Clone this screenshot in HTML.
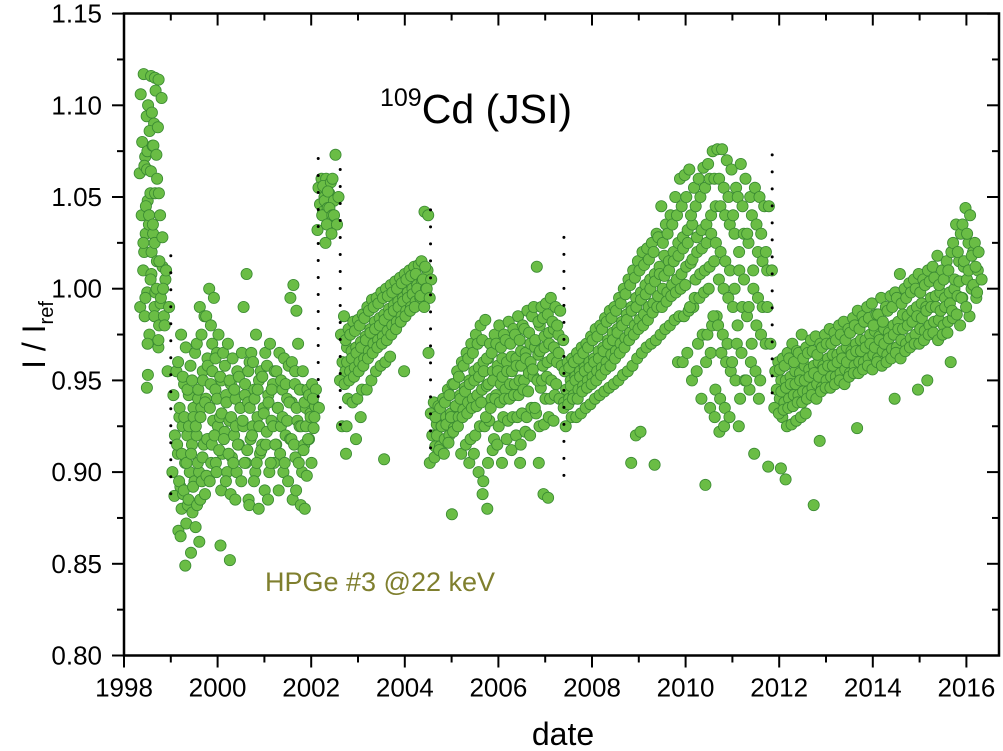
<!DOCTYPE html>
<html><head><meta charset="utf-8"><style>
html,body{margin:0;padding:0;background:#fff;}
svg{display:block;font-family:"Liberation Sans",Arial,sans-serif;}
</style></head><body>
<svg id="chart" width="1003" height="751" viewBox="0 0 1003 751" xmlns="http://www.w3.org/2000/svg">
<g id="dots"></g>
<g id="breaks"></g>
<g id="axes"></g>
<text x="380" y="123" font-size="41" fill="#000"><tspan font-size="25" dy="-17">109</tspan><tspan dy="17">Cd (JSI)</tspan></text>
<text x="265" y="591" font-size="27" fill="#7f7f2e">HPGe #3 @22 keV</text>
<text x="563" y="745" font-size="32" text-anchor="middle">date</text>
<text transform="translate(45,335) rotate(-90)" font-size="32" text-anchor="middle">I / I<tspan font-size="20" dy="8">ref</tspan></text>
</svg>
<script>
const yTicks=[0.80,0.85,0.90,0.95,1.00,1.05,1.10,1.15];
const yTickLabels=["0.80","0.85","0.90","0.95","1.00","1.05","1.10","1.15"];
const xTicks=[1998,2000,2002,2004,2006,2008,2010,2012,2014,2016];
const xTickLabels=["1998","2000","2002","2004","2006","2008","2010","2012","2014","2016"];
const breakDates=[1999.0,2002.15,2002.62,2004.55,2007.4,2011.85];
const breakTops=[1.018,1.071,1.065,1.043,1.028,1.073];
const breakBottoms=[0.884,0.936,0.922,0.907,0.894,0.935];
const dates=[1998.42,1998.5,1998.58,1998.66,1998.74,1998.82,1998.9,
1999.12,1999.22,1999.32,1999.42,1999.52,1999.62,1999.72,1999.82,1999.92,2000.02,2000.12,2000.22,2000.32,2000.42,2000.52,2000.62,2000.72,2000.82,2000.92,2001.02,2001.12,2001.22,2001.32,2001.42,2001.52,2001.62,2001.72,2001.82,2001.92,2002.02,2002.1,
2002.22,2002.32,2002.42,2002.52,
2002.7,2002.8,2002.9,2003.0,2003.1,2003.2,2003.3,2003.4,2003.5,2003.6,2003.7,2003.8,2003.9,2004.0,2004.1,2004.2,2004.3,2004.42,2004.5,
2004.62,2004.72,2004.82,2004.92,2005.02,2005.12,2005.22,2005.32,2005.42,2005.52,2005.62,2005.72,2005.82,2005.92,2006.02,2006.12,2006.22,2006.32,2006.42,2006.52,2006.62,2006.72,2006.82,2006.92,2007.02,2007.12,2007.22,2007.32,
2007.48,2007.58,2007.68,2007.78,2007.88,2007.98,2008.08,2008.18,2008.28,2008.38,2008.48,2008.58,2008.68,2008.78,2008.88,2008.98,2009.08,2009.18,2009.28,2009.38,2009.48,2009.58,2009.68,2009.78,2009.88,2009.98,2010.08,2010.18,2010.28,2010.38,2010.48,2010.58,2010.68,2010.78,2010.88,2010.98,2011.08,2011.18,2011.28,2011.38,2011.48,2011.58,2011.68,2011.78,
2011.98,2012.08,2012.18,2012.28,2012.38,2012.48,2012.58,2012.68,2012.78,2012.88,2012.98,2013.08,2013.18,2013.28,2013.38,2013.48,2013.58,2013.68,2013.78,2013.88,2013.98,2014.08,2014.18,2014.28,2014.38,2014.48,2014.58,2014.68,2014.78,2014.88,2014.98,2015.08,2015.18,2015.28,2015.38,2015.48,2015.58,2015.68,2015.78,2015.88,2015.98,2016.08,2016.18,2016.26];
const values=[
[1.117,1.106,1.094,1.08,1.072,1.063,1.048,1.04,1.03,1.02,1.01,0.998,0.99,0.985],
[1.075,1.067,1.052,1.045,1.035,1.025,1.008,0.995,0.975,0.953,0.946],
[1.116,1.1,1.09,1.086,1.078,1.065,1.052,1.04,1.03,1.02,1.005,0.99,0.97],
[1.115,1.096,1.088,1.078,1.073,1.064,1.052,1.035,1.015,0.998,0.985,0.968],
[1.114,1.108,1.104,1.06,1.04,1.025,1.012,1.0,0.992,0.98],
[1.028,1.015,1.005,0.995,0.985,0.972],
[1.01,1.0,0.99,0.98,0.955],
[0.955,0.942,0.93,0.92,0.91,0.9,0.892,0.887,0.868],
[0.975,0.96,0.948,0.935,0.925,0.915,0.905,0.895,0.888,0.88,0.865],
[0.968,0.952,0.942,0.93,0.92,0.91,0.9,0.89,0.882,0.872,0.849],
[0.958,0.945,0.935,0.925,0.915,0.905,0.895,0.885,0.878,0.856],
[0.965,0.95,0.94,0.93,0.92,0.91,0.9,0.892,0.882,0.87],
[0.99,0.97,0.955,0.945,0.935,0.925,0.915,0.905,0.895,0.885,0.862],
[0.985,0.975,0.962,0.95,0.94,0.93,0.918,0.908,0.898,0.888],
[1.0,0.985,0.97,0.958,0.948,0.938,0.928,0.918,0.905,0.895],
[0.995,0.98,0.965,0.955,0.945,0.935,0.925,0.915,0.905],
[0.975,0.962,0.95,0.94,0.93,0.92,0.91,0.9,0.86],
[0.965,0.952,0.942,0.932,0.922,0.912,0.9,0.89],
[0.97,0.958,0.948,0.938,0.928,0.918,0.908,0.895,0.852],
[0.962,0.95,0.94,0.93,0.92,0.91,0.9,0.888],
[0.955,0.945,0.935,0.925,0.915,0.905,0.895,0.885],
[0.965,0.952,0.942,0.935,0.925,0.915,0.905],
[1.008,0.99,0.96,0.948,0.938,0.928,0.918,0.905,0.885],
[0.965,0.955,0.945,0.935,0.925,0.912,0.9,0.882],
[0.975,0.96,0.95,0.94,0.93,0.92,0.91,0.895],
[0.955,0.945,0.935,0.925,0.915,0.905,0.89,0.88],
[0.965,0.952,0.942,0.932,0.922,0.912,0.9],
[0.97,0.958,0.948,0.938,0.928,0.915,0.905,0.885],
[0.955,0.945,0.935,0.925,0.915,0.905,0.89],
[0.965,0.955,0.945,0.935,0.925,0.915,0.9],
[0.962,0.95,0.94,0.93,0.92,0.91,0.895],
[0.958,0.948,0.938,0.928,0.918,0.905,0.885],
[1.002,0.995,0.988,0.96,0.948,0.938,0.928,0.918,0.908],
[0.97,0.955,0.945,0.935,0.925,0.915,0.9,0.89],
[0.955,0.945,0.935,0.925,0.915,0.905,0.898,0.882,0.88],
[0.945,0.938,0.932,0.925,0.918,0.912,0.905],
[0.948,0.942,0.936,0.93,0.924,0.918],
[0.945,0.94,0.935,0.93],
[1.06,1.055,1.05,1.046,1.042,1.032,1.025],
[1.06,1.056,1.052,1.048,1.044,1.04],
[1.058,1.053,1.048,1.044,1.04,1.035],
[1.073,1.06,1.05,1.04,1.035,1.03],
[0.985,0.975,0.968,0.96,0.955,0.95,0.94,0.925,0.91],
[0.978,0.972,0.966,0.96,0.955,0.948,0.938,0.925],
[0.982,0.975,0.968,0.962,0.957,0.95,0.94],
[0.983,0.977,0.971,0.965,0.96,0.952,0.945,0.918],
[0.986,0.98,0.974,0.968,0.962,0.955,0.945,0.93],
[0.99,0.984,0.978,0.972,0.966,0.958,0.95],
[0.994,0.988,0.982,0.976,0.97,0.962,0.955],
[0.995,0.99,0.984,0.978,0.972,0.965,0.958],
[0.998,0.992,0.986,0.98,0.974,0.968,0.96],
[1.0,0.995,0.989,0.983,0.977,0.97,0.963,0.907],
[1.002,0.996,0.991,0.986,0.98,0.972],
[1.004,0.998,0.993,0.988,0.982,0.975],
[1.006,1.0,0.995,0.99,0.985,0.978,0.955],
[1.008,1.003,0.998,0.993,0.988,0.982],
[1.01,1.005,1.0,0.995,0.99,0.985],
[1.012,1.007,1.002,0.997,0.993,0.988],
[1.013,1.008,1.004,1.0,0.995,0.99],
[1.042,1.015,1.01,1.005,1.0,0.996,0.965],
[1.04,1.012,1.005,1.0,0.995,0.99],
[0.938,0.932,0.926,0.92,0.914,0.905],
[0.936,0.93,0.925,0.92,0.914,0.908],
[0.94,0.935,0.93,0.925,0.918,0.912],
[0.945,0.938,0.932,0.926,0.92,0.91,0.877],
[0.948,0.942,0.936,0.93,0.924,0.916],
[0.955,0.948,0.942,0.936,0.93,0.922,0.91],
[0.96,0.952,0.946,0.94,0.934,0.925,0.915],
[0.965,0.958,0.95,0.944,0.938,0.93,0.918],
[0.97,0.962,0.955,0.948,0.94,0.932,0.92,0.905],
[0.975,0.965,0.957,0.95,0.942,0.935,0.925,0.91],
[0.98,0.97,0.96,0.952,0.945,0.936,0.925,0.9,0.888],
[0.983,0.972,0.962,0.955,0.947,0.938,0.928,0.895,0.88],
[0.97,0.962,0.955,0.948,0.94,0.93,0.918,0.905],
[0.975,0.965,0.958,0.95,0.942,0.935,0.925,0.912],
[0.98,0.97,0.962,0.955,0.948,0.94,0.93,0.915],
[0.975,0.968,0.96,0.952,0.945,0.938,0.928,0.905],
[0.982,0.972,0.963,0.955,0.948,0.94,0.93,0.918],
[0.978,0.97,0.962,0.955,0.948,0.94,0.93,0.912],
[0.985,0.975,0.966,0.958,0.95,0.942,0.932,0.92,0.905],
[0.98,0.972,0.965,0.958,0.95,0.942,0.93,0.915],
[0.988,0.978,0.97,0.962,0.954,0.945,0.935,0.922],
[0.985,0.976,0.968,0.96,0.952,0.944,0.932,0.92],
[1.012,0.99,0.98,0.972,0.964,0.956,0.946,0.935,0.905],
[0.99,0.982,0.974,0.966,0.958,0.95,0.94,0.925,0.888],
[0.992,0.984,0.976,0.968,0.96,0.95,0.94,0.926,0.886],
[0.995,0.986,0.978,0.97,0.962,0.952,0.942,0.93],
[0.99,0.982,0.975,0.968,0.96,0.95,0.94,0.928],
[0.988,0.98,0.972,0.965,0.958,0.948,0.938],
[0.96,0.955,0.95,0.945,0.94,0.935,0.93,0.925],
[0.962,0.957,0.952,0.947,0.942,0.937,0.93],
[0.965,0.96,0.955,0.95,0.945,0.94,0.932],
[0.968,0.962,0.957,0.952,0.947,0.94,0.935],
[0.97,0.965,0.96,0.955,0.95,0.944,0.937],
[0.974,0.968,0.962,0.957,0.952,0.946,0.94],
[0.978,0.972,0.966,0.96,0.955,0.948,0.942],
[0.98,0.974,0.968,0.962,0.957,0.95,0.944],
[0.984,0.978,0.972,0.966,0.96,0.953,0.946],
[0.988,0.982,0.976,0.97,0.964,0.956,0.948],
[0.99,0.984,0.978,0.972,0.966,0.958,0.95],
[0.995,0.988,0.982,0.976,0.97,0.962,0.953],
[1.0,0.992,0.986,0.98,0.973,0.965,0.955],
[1.005,0.997,0.99,0.983,0.976,0.968,0.958],
[1.01,1.002,0.995,0.988,0.98,0.972,0.962,0.905],
[1.015,1.006,0.998,0.99,0.983,0.975,0.965,0.92],
[1.02,1.01,1.002,0.994,0.986,0.978,0.968,0.922],
[1.022,1.013,1.005,0.997,0.99,0.98,0.97],
[1.025,1.016,1.008,1.0,0.992,0.983,0.972],
[1.03,1.02,1.012,1.004,0.996,0.987,0.975,0.904],
[1.045,1.028,1.018,1.008,1.0,0.99,0.978],
[1.035,1.025,1.015,1.007,0.998,0.99,0.98],
[1.04,1.03,1.02,1.01,1.002,0.993,0.983],
[1.05,1.035,1.025,1.015,1.005,0.996,0.985],
[1.06,1.04,1.028,1.018,1.008,0.998,0.985,0.96],
[1.062,1.045,1.032,1.022,1.012,1.0,0.988,0.96],
[1.065,1.05,1.035,1.025,1.014,1.002,0.99,0.965],
[1.055,1.04,1.028,1.016,1.005,0.99,0.97,0.95],
[1.06,1.045,1.032,1.02,1.008,0.995,0.975,0.955],
[1.066,1.05,1.035,1.022,1.01,0.995,0.975,0.94,0.893],
[1.068,1.055,1.04,1.025,1.012,0.998,0.98,0.96,0.935],
[1.075,1.06,1.045,1.03,1.015,1.0,0.985,0.965,0.93],
[1.076,1.06,1.045,1.025,1.005,0.985,0.965,0.945,0.922],
[1.076,1.06,1.04,1.02,1.0,0.98,0.96,0.94,0.925],
[1.07,1.055,1.035,1.015,0.995,0.975,0.955,0.935],
[1.065,1.05,1.03,1.01,0.99,0.97,0.95,0.93],
[1.055,1.04,1.02,1.0,0.98,0.96,0.94],
[1.068,1.05,1.03,1.01,0.99,0.97,0.95,0.925],
[1.06,1.045,1.025,1.005,0.985,0.965,0.945],
[1.05,1.03,1.01,0.99,0.97,0.95,0.91],
[1.055,1.04,1.02,1.0,0.98,0.96,0.94],
[1.05,1.035,1.015,0.995,0.975,0.955],
[1.045,1.03,1.01,0.99,0.97,0.95,0.903],
[1.045,1.02,1.01,0.99,0.97],
[0.96,0.955,0.95,0.945,0.94,0.935,0.93],
[0.962,0.956,0.95,0.944,0.938,0.932,0.925,0.902],
[0.965,0.958,0.952,0.946,0.94,0.934,0.926,0.896],
[0.97,0.962,0.955,0.948,0.942,0.935,0.928],
[0.966,0.96,0.954,0.948,0.942,0.936,0.93],
[0.975,0.965,0.958,0.95,0.944,0.938,0.932],
[0.968,0.962,0.956,0.95,0.944,0.938],
[0.972,0.965,0.958,0.952,0.946,0.94],
[0.974,0.966,0.96,0.954,0.948,0.942,0.917,0.882],
[0.97,0.964,0.958,0.952,0.946,0.94],
[0.975,0.968,0.962,0.956,0.95,0.944],
[0.978,0.97,0.964,0.958,0.952,0.946],
[0.976,0.97,0.964,0.958,0.952,0.946],
[0.98,0.972,0.966,0.96,0.954,0.948],
[0.982,0.975,0.968,0.962,0.956,0.95],
[0.978,0.972,0.966,0.96,0.954,0.948],
[0.984,0.976,0.97,0.964,0.958,0.952,0.924],
[0.988,0.98,0.972,0.966,0.96,0.954],
[0.985,0.978,0.972,0.966,0.96,0.954],
[0.99,0.982,0.975,0.968,0.962,0.956],
[0.992,0.984,0.977,0.97,0.964,0.958],
[0.986,0.98,0.974,0.968,0.962,0.956],
[0.995,0.986,0.978,0.972,0.966,0.96],
[0.99,0.982,0.976,0.97,0.964,0.958],
[0.996,0.988,0.98,0.973,0.967,0.96,0.94],
[0.998,0.99,0.982,0.975,0.968,0.962],
[1.008,0.995,0.986,0.978,0.972,0.965],
[1.0,0.992,0.985,0.978,0.97,0.962],
[1.003,0.995,0.988,0.98,0.973,0.966],
[1.005,0.998,0.99,0.982,0.975,0.968,0.945],
[1.008,1.0,0.992,0.985,0.978,0.97],
[1.005,0.998,0.99,0.984,0.977,0.97,0.95],
[1.01,1.002,0.995,0.988,0.98,0.972],
[1.012,1.004,0.996,0.99,0.982,0.975],
[1.018,1.006,0.998,0.99,0.983,0.976],
[1.01,1.002,0.995,0.988,0.98,0.972],
[1.015,1.005,0.998,0.99,0.982,0.975,0.96],
[1.02,1.01,1.0,0.992,0.984,0.976],
[1.035,1.025,1.015,1.005,0.996,0.988,0.98],
[1.03,1.02,1.012,1.004,0.995,0.986],
[1.044,1.035,1.025,1.015,1.005,0.995,0.985],
[1.04,1.03,1.02,1.01,1.0,0.99],
[1.025,1.018,1.01,1.002,0.995],
[1.02,1.012,1.005,0.998]
];
const X=d=>124+(d-1998)*46.8, Y=v=>655.5-(v-0.80)*1834;
const jitter=[0,-3,3,-1.5,1.5,-4,4,-2,2,0.5,-0.5,3.5,-3.5,1];
const NS='http://www.w3.org/2000/svg';
function mk(tag,attrs,parent){const e=document.createElementNS(NS,tag);for(const k in attrs)e.setAttribute(k,attrs[k]);parent.appendChild(e);return e;}
const dotsG=document.getElementById('dots');
dates.forEach((d,i)=>{values[i].forEach((v,j)=>{
const c=mk('circle',{cx:(X(d)+jitter[j%jitter.length]).toFixed(1),cy:Y(v).toFixed(1),r:5.6,fill:'#6abd45',stroke:'#3a8a32','stroke-width':0.8},dotsG);


});});
const brG=document.getElementById('breaks');
breakDates.forEach((d,i)=>{
const l=mk('line',{x1:X(d),x2:X(d),y1:Y(breakTops[i]),y2:Y(breakBottoms[i]),stroke:'#000','stroke-width':3,'stroke-dasharray':'0 17','stroke-linecap':'round'},brG);


});
const ax=document.getElementById('axes');
const L=124,R=999,T=13.5,B=655.5;
const fr=mk('rect',{x:L,y:T,width:R-L,height:B-T,fill:'none',stroke:'#000','stroke-width':2.5},ax);


for(let yr=1998;yr<=2016;yr++){const x=X(yr),maj=yr%2===0,len=maj?12:7;
mk('line',{x1:x,x2:x,y1:B,y2:B+len,stroke:'#000','stroke-width':2},ax);
mk('line',{x1:x,x2:x,y1:T,y2:T+len,stroke:'#000','stroke-width':2},ax);}
for(let k=0;k<=14;k++){const v=0.80+k*0.025,y=Y(v),len=k%2===0?12:7;
mk('line',{x1:L-len,x2:L,y1:y,y2:y,stroke:'#000','stroke-width':2},ax);
mk('line',{x1:R-len,x2:R,y1:y,y2:y,stroke:'#000','stroke-width':2},ax);}
xTicks.forEach((t,i)=>{const e=mk('text',{x:X(t),y:B+41,'font-size':26,'text-anchor':'middle'},ax);e.textContent=xTickLabels[i];

});
yTicks.forEach((t,i)=>{const e=mk('text',{x:L-22,y:Y(t)+9,'font-size':26,'text-anchor':'end'},ax);e.textContent=yTickLabels[i];

});
</script>
</body></html>
